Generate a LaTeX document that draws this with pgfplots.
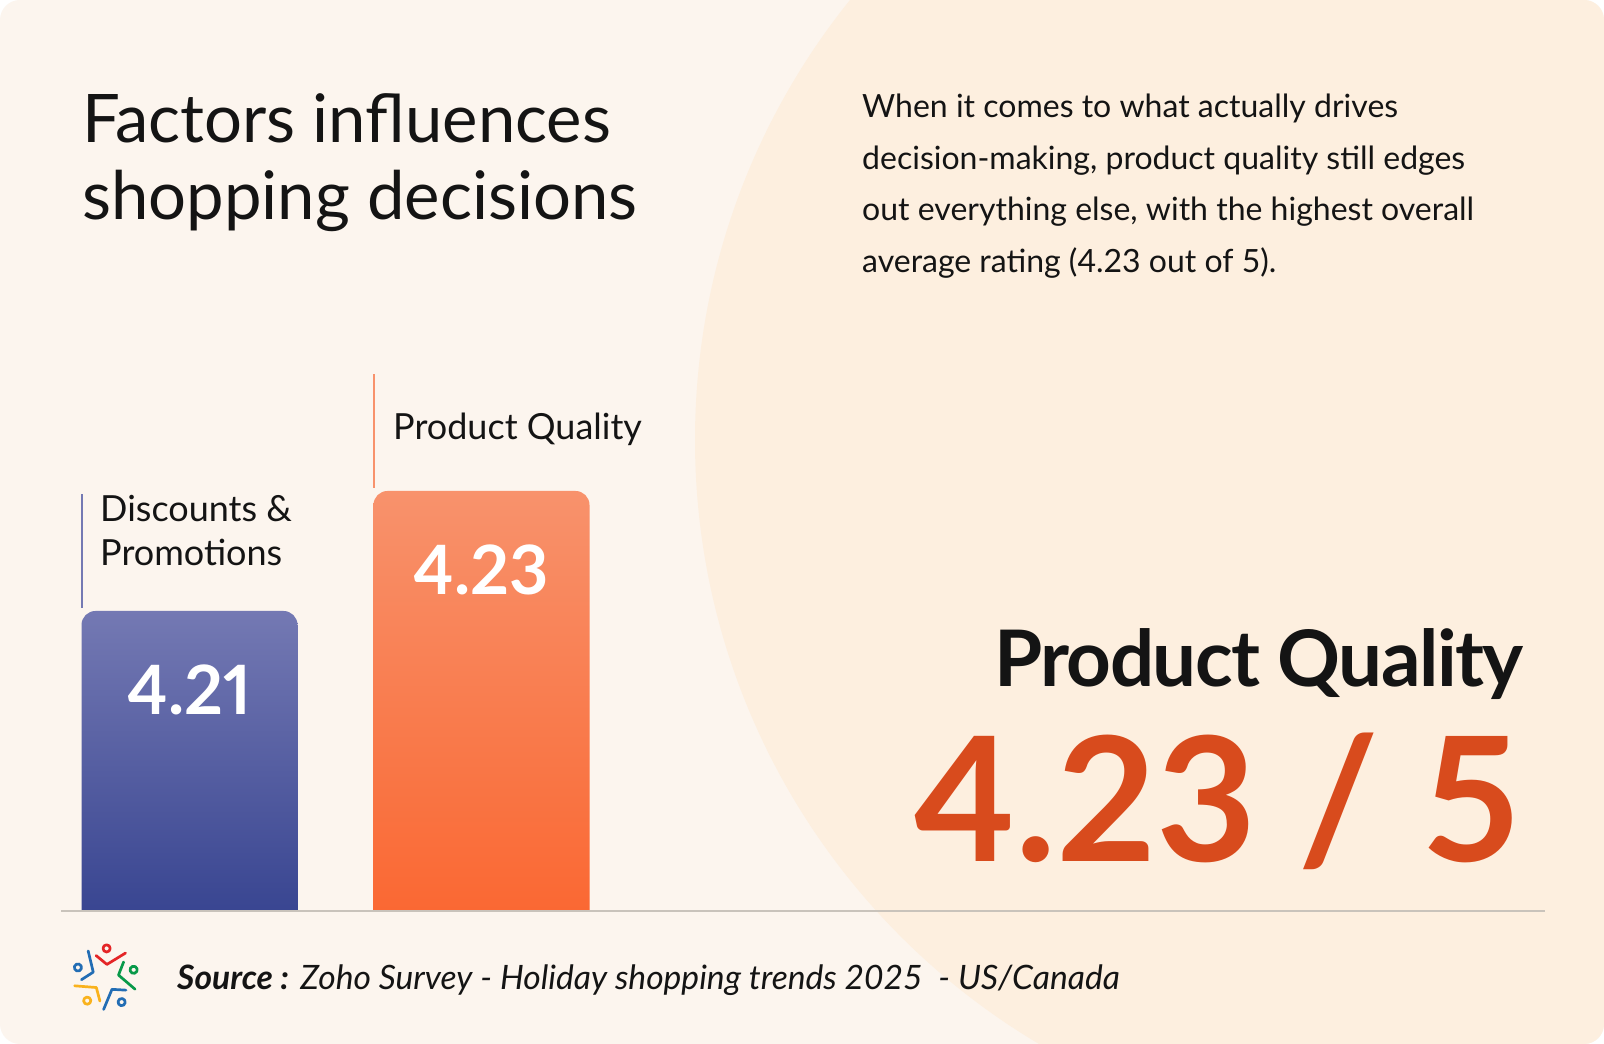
\documentclass[border=0pt]{standalone}
\usepackage{pgfplots}
\pgfplotsset{compat=1.18}
\usepackage{fontspec}
\setmainfont{Lato}
\definecolor{bgA}{HTML}{FCF5EE}
\definecolor{bgB}{HTML}{FDEFDF}
\definecolor{ink}{HTML}{141414}
\definecolor{blueTop}{HTML}{7479B3}
\definecolor{blueBot}{HTML}{35428F}
\definecolor{orgTop}{HTML}{F8926C}
\definecolor{orgBot}{HTML}{FA6630}
\definecolor{bigOrg}{HTML}{D84B1D}
\definecolor{rule}{HTML}{C9C3BB}
\definecolor{lRed}{HTML}{E42527}
\definecolor{lGreen}{HTML}{089949}
\definecolor{lBlue}{HTML}{226DB4}
\definecolor{lYellow}{HTML}{F9B21D}
\begin{document}
\begin{tikzpicture}[x=1pt,y=1pt]
\fill[white] (0,0) rectangle (1604,1044);
\begin{scope}
\clip[rounded corners=20pt] (0,0) rectangle (1604,1044);
\fill[bgA] (0,0) rectangle (1604,1044);
\fill[bgB] (1397,604) circle[radius=702pt];
\end{scope}

% title
\node[anchor=base west, inner sep=0pt, text=ink, font=\fontsize{67}{67}\selectfont] at (82,901) {Factors influences};
\node[anchor=base west, inner sep=0pt, text=ink, font=\fontsize{67}{67}\selectfont] at (82,824) {shopping decisions};

% paragraph
\begin{scope}[every node/.style={anchor=base west, inner sep=0pt, text=ink, font=\fontsize{32}{32}\selectfont}]
\node at (862,926) {When it comes to what actually drives};
\node at (862,874.5) {decision-making, product quality still edges};
\node at (862,823) {out everything else, with the highest overall};
\node at (862,771.5) {average rating (4.23 out of 5).};
\end{scope}

% bars (axis extends 20pt below the baseline; that strip is clipped away)
\begin{scope}
\clip (0,133) rectangle (1604,1044);
\begin{axis}[at={(43.5pt,113pt)}, anchor=south west, scale only axis,
  width=584pt, height=560pt, xmin=-0.5, xmax=1.5, ymin=0.0066667, ymax=0.10,
  enlargelimits=false, clip=true,
  axis lines=none, ticks=none, y filter/.expression={y-4.15},
  ybar, bar width=216pt, bar shift=0pt,
  point meta=explicit symbolic, nodes near coords,
  every node near coord/.style={anchor=center, yshift=-79pt, text=white, inner sep=0pt,
     font=\fontsize{68}{68}\selectfont\bfseries\addfontfeatures{Numbers=Proportional}}]
\addplot[draw=none, top color=blueTop, bottom color=blueBot, rounded corners=14pt]
  coordinates {(0,4.21) [4.21]};
\addplot[draw=none, top color=orgTop, bottom color=orgBot, rounded corners=14pt]
  coordinates {(1,4.23) [4.23]};
\end{axis}
\end{scope}

% leader lines
\draw[line width=1.6pt, draw=blueTop] (82,436) -- (82,550);
\draw[line width=1.6pt, draw=orgTop] (374,556) -- (374,670);

% bar labels
\begin{scope}[every node/.style={anchor=base west, inner sep=0pt, text=ink, font=\fontsize{36}{36}\selectfont}]
\node at (100,522) {Discounts \&};
\node at (100,478) {Promotions};
\node at (393,604) {Product Quality};
\end{scope}

% big text right
\node[anchor=base east, inner sep=0pt, text=ink, font=\fontsize{78}{78}\selectfont\bfseries\addfontfeatures{LetterSpace=-2}] at (1524,357) {Product Quality};
\node[anchor=base east, inner sep=0pt, text=bigOrg, font=\fontsize{173}{173}\selectfont\bfseries] at (1522,182) {4.23 / 5};

% baseline rule
\draw[rule, line width=2pt] (61,133) -- (1545,133);

% source
\node[anchor=base west, inner sep=0pt, text=ink, font=\fontsize{33.6}{34}\selectfont] at (177,54) {\textbf{\textit{Source :}} \textit{Zoho Survey - Holiday shopping trends 2025\ \ - US/Canada}};

% logo
\begin{scope}[shift={(105.4,66.3)}, line width=2.7pt, line cap=round, line join=round]
\foreach \ang/\col in {-1/lRed, -73/lGreen, -145/lBlue, -217/lYellow, -289/lBlue}{
  \begin{scope}[rotate=\ang]
    \draw[\col] (-9.7,22) -- (1.3,13.3) -- (19.7,25);
    \draw[\col] (0.7,29.3) circle[radius=3.6pt];
  \end{scope}
}
\end{scope}
\end{tikzpicture}
\end{document}
